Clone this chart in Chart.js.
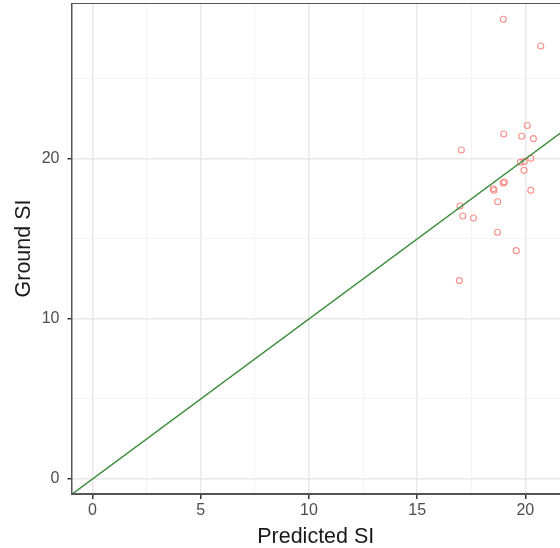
<!DOCTYPE html>
<html>
<head>
<meta charset="utf-8">
<script src="https://cdn.jsdelivr.net/npm/chart.js@4"></script>
<style>
  html, body { margin: 0; padding: 0; background: #fff; overflow: hidden; }
  #wrap { width: 560px; height: 548px; }
</style>
</head>
<body>
<div id="wrap"><canvas id="chart"></canvas></div>
<script>
// predicted vs ground SI
var predictedSI = [18.98, 20.71, 20.09, 19.0, 19.83, 20.37, 17.04, 19.77, 19.95, 20.25, 19.94,
  19.03, 18.98, 18.52, 18.55, 20.25, 18.72, 16.98, 17.11, 17.6, 18.71, 19.58, 16.95];
var groundSI = [28.73, 27.06, 22.09, 21.56, 21.42, 21.27, 20.56, 19.79, 19.85, 20.04, 19.29,
  18.56, 18.5, 18.14, 18.05, 18.04, 17.33, 17.06, 16.44, 16.31, 15.42, 14.27, 12.4];

// 1:1 reference line
var identityLine = [-2, 30];

// ticks (major ones get labels, halfway ones are minor grid only)
var xTicks = [0, 2.5, 5, 7.5, 10, 12.5, 15, 17.5, 20];
var xLabels = [0, 5, 10, 15, 20];
var yTicks = [0, 5, 10, 15, 20, 25];
var yLabels = [0, 10, 20];

var points = predictedSI.map(function (x, i) { return { x: x, y: groundSI[i] }; });
var linePts = identityLine.map(function (v) { return { x: v, y: v }; });

var isMajor = function (list, v) { return list.indexOf(v) !== -1; };
var FONT = 'Liberation Sans, Arial, sans-serif';

var panelBorder = {
  id: 'panelBorder',
  afterDatasetsDraw: function (chart) {
    var a = chart.chartArea, ctx = chart.ctx;
    ctx.save();
    ctx.strokeStyle = '#555555';
    ctx.lineWidth = 1;
    ctx.strokeRect(a.left + 0.5, a.top + 0.5, a.right - a.left, a.bottom - a.top - 1);
    ctx.restore();
  }
};

var flat = function (s) { s.paddingLeft = 0; s.paddingRight = 0; s.paddingTop = 0; s.paddingBottom = 0; };

new Chart(document.getElementById('chart'), {
  type: 'scatter',
  data: {
    datasets: [{
      data: points,
      pointRadius: 3,
      pointHoverRadius: 3,
      pointBorderWidth: 1.1,
      pointBorderColor: 'rgba(248,118,109,0.8)',
      pointBackgroundColor: 'rgba(0,0,0,0)',
      order: 2
    }, {
      type: 'line',
      data: linePts,
      borderColor: '#3a8c3a',
      borderWidth: 1.5,
      pointRadius: 0,
      fill: false,
      order: 1
    }]
  },
  options: {
    responsive: true,
    maintainAspectRatio: false,
    animation: false,
    layout: { autoPadding: false, padding: { top: 3, right: 0, left: 0, bottom: 0 } },
    plugins: { legend: { display: false }, tooltip: { enabled: false } },
    scales: {
      x: {
        type: 'linear',
        min: -0.97,
        max: 21.6,
        afterBuildTicks: function (s) { s.ticks = xTicks.map(function (v) { return { value: v }; }); },
        afterFit: function (s) { s.height = 54; flat(s); },
        grid: {
          color: function (c) { return isMajor(xLabels, c.tick && c.tick.value) ? '#e9e9e9' : '#f3f3f3'; },
          tickColor: function (c) { return isMajor(xLabels, c.tick && c.tick.value) ? '#333333' : 'rgba(0,0,0,0)'; },
          lineWidth: function (c) { return isMajor(xLabels, c.tick && c.tick.value) ? 1.5 : 1; },
          tickLength: 5
        },
        border: { display: true, color: '#555555' },
        ticks: {
          autoSkip: false,
          maxRotation: 0,
          padding: 2,
          color: '#4d4d4d',
          font: { family: FONT, size: 16 },
          callback: function (v) { return isMajor(xLabels, v) ? String(v) : ''; }
        },
        title: {
          display: true,
          text: 'Predicted SI',
          color: '#1a1a1a',
          font: { family: FONT, size: 21.5 },
          padding: { top: 0, bottom: -2 }
        }
      },
      y: {
        type: 'linear',
        min: -0.94,
        max: 29.75,
        afterBuildTicks: function (s) { s.ticks = yTicks.map(function (v) { return { value: v }; }); },
        afterFit: function (s) { s.width = 71.5; flat(s); },
        grid: {
          color: function (c) { return isMajor(yLabels, c.tick && c.tick.value) ? '#e9e9e9' : '#f3f3f3'; },
          tickColor: function (c) { return isMajor(yLabels, c.tick && c.tick.value) ? '#333333' : 'rgba(0,0,0,0)'; },
          lineWidth: function (c) { return isMajor(yLabels, c.tick && c.tick.value) ? 1.5 : 1; },
          tickLength: 4
        },
        border: { display: true, color: '#555555' },
        ticks: {
          autoSkip: false,
          padding: 8,
          color: '#4d4d4d',
          font: { family: FONT, size: 16 },
          callback: function (v) { return isMajor(yLabels, v) ? String(v) : ''; }
        },
        title: {
          display: true,
          text: 'Ground SI',
          color: '#1a1a1a',
          font: { family: FONT, size: 21.5 },
          padding: { top: 11, bottom: 0 }
        }
      }
    }
  },
  plugins: [panelBorder]
});
</script>
</body>
</html>
